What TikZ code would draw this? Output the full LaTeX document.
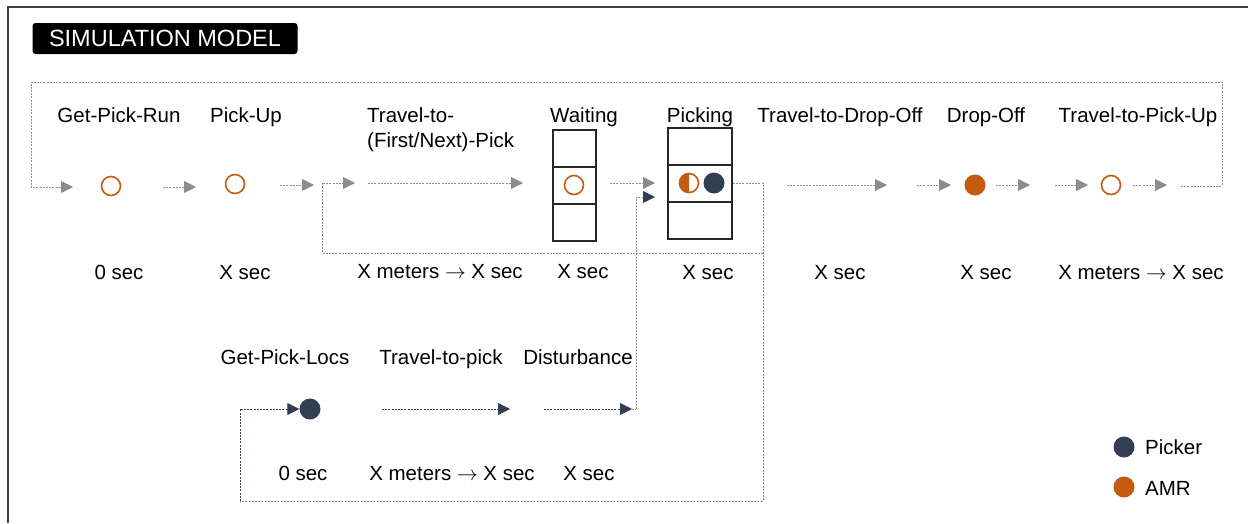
\documentclass[tikz,border=0pt]{standalone}
\usepackage{fontspec}
\setmainfont{Liberation Sans}
\usetikzlibrary{arrows.meta}
\definecolor{amr}{HTML}{C55A11}
\definecolor{picker}{HTML}{333F50}
\definecolor{flowgray}{HTML}{8C8C8C}
\definecolor{framegray}{HTML}{404040}

\newcommand{\tto}{ $\rightarrow$ }

\tikzset{
  lbl/.style={anchor=base, inner sep=0pt, font=\fontsize{20.5}{24}\selectfont},
  lblleft/.style={lbl, anchor=base west},
  gflow/.style={draw=flowgray, line width=0.9pt, dash pattern=on 2pt off 1.2pt,
    -{Triangle[length=12pt,width=12pt]}},
  nflow/.style={draw=picker, line width=0.9pt, dash pattern=on 2pt off 1.2pt,
    -{Triangle[length=12pt,width=12pt]}},
  loopline/.style={draw=flowgray, line width=0.9pt, dash pattern=on 2pt off 1.2pt},
  amrring/.style={circle, draw=amr, line width=1.6pt, minimum size=19pt, inner sep=0pt},
  amrdot/.style={circle, fill=amr, minimum size=21pt, inner sep=0pt},
  pickdot/.style={circle, fill=picker, minimum size=21pt, inner sep=0pt},
  cell/.style={draw=black!85, line width=1.4pt, inner sep=0pt},
}

\begin{document}
\begin{tikzpicture}[x=1pt,y=-1pt]
\useasboundingbox (0,0) rectangle (1248,523);

% frame and title
\draw[framegray, line width=1.6pt] (8,523) -- (8,7) -- (1248,7);
\node[fill=black, rounded corners=3pt, text=white, minimum width=265pt,
  minimum height=31pt, inner sep=0pt, font=\fontsize{23.5}{27}\selectfont]
  (title) at (165,38.5) {SIMULATION MODEL};

% ---------- AMR process (top row) ----------
\node[lbl] (l1) at (119,122) {Get-Pick-Run};
\node[lbl] (l2) at (246,122) {Pick-Up};
\node[lblleft] (l3a) at (367,122) {Travel-to-};
\node[lblleft] (l3b) at (367,147) {(First/Next)-Pick};
\node[lbl] (l4) at (584,122) {Waiting};
\node[lbl] (l5) at (700,122) {Picking};
\node[lbl] (l6) at (840,122) {Travel-to-Drop-Off};
\node[lbl] (l7) at (986,122) {Drop-Off};
\node[lbl] (l8) at (1138,122) {Travel-to-Pick-Up};

\node[lbl] (t1) at (119,279) {0 sec};
\node[lbl] (t2) at (245,279) {X sec};
\node[lbl] (t3) at (440,278) {X meters\tto X sec};
\node[lbl] (t4) at (583,278) {X sec};
\node[lbl] (t5) at (708,279) {X sec};
\node[lbl] (t6) at (840,279) {X sec};
\node[lbl] (t7) at (986,279) {X sec};
\node[lbl] (t8) at (1141,279) {X meters\tto X sec};

% waiting buffer
\node[cell, minimum width=43pt, minimum height=37pt] (w1) at (574.5,148.5) {};
\node[cell, minimum width=43pt, minimum height=37pt] (w2) at (574.5,185.5) {};
\node[cell, minimum width=43pt, minimum height=37pt] (w3) at (574.5,222.5) {};
% picking station
\node[cell, minimum width=64pt, minimum height=37pt] (p1) at (700,146.5) {};
\node[cell, minimum width=64pt, minimum height=37pt] (p2) at (700,183.5) {};
\node[cell, minimum width=64pt, minimum height=37pt] (p3) at (700,220.5) {};

% state markers
\node[amrring] (c1) at (111,186) {};
\node[amrring] (c2) at (235,184) {};
\node[amrring] (c3) at (574,185) {};
\node[amrring] (c4) at (689,183) {};
\begin{scope}
  \clip ([xshift=-12pt,yshift=12pt]c4.center) rectangle ([yshift=-12pt]c4.center);
  \fill[amr] (c4.center) circle[radius=10];
\end{scope}
\node[pickdot] (c5) at (714,183) {};
\node[amrdot] (c6) at (975,185) {};
\node[amrring] (c7) at (1111,185) {};

% arrow end points of the top row
\coordinate (a1e) at (73,187);
\coordinate (a2s) at (163,187);  \coordinate (a2e) at (196,187);
\coordinate (a3s) at (280,185);  \coordinate (a3e) at (314,185);
\coordinate (a4e) at (355,183);
\coordinate (a5s) at (368,183);  \coordinate (a5e) at (523,183);
\coordinate (a6s) at (610,183);  \coordinate (a6e) at (655,183);
\coordinate (a7s) at (787,185);  \coordinate (a7e) at (887,185);
\coordinate (a8s) at (917,185);  \coordinate (a8e) at (951,185);
\coordinate (a9s) at (996,185);  \coordinate (a9e) at (1030,185);
\coordinate (a10s) at (1055,185); \coordinate (a10e) at (1088,185);
\coordinate (a11s) at (1133,185); \coordinate (a11e) at (1167,185);
\coordinate (a12s) at (1181,186);
\coordinate (topR) at (1222,82);
\coordinate (topL) at (31,82);
\coordinate (pkout) at (763,183);
\coordinate (rejoin) at (322,253);
\coordinate (botR) at (763,501);
\coordinate (botL) at (240,501);

\draw[gflow] (a12s) -| (topR) -- (topL) |- (a1e);
\draw[gflow] (a2s) -- (a2e);
\draw[gflow] (a3s) -- (a3e);
\draw[gflow] (a5s) -- (a5e);
\draw[gflow] (a6s) -- (a6e);
\draw[gflow] (a7s) -- (a7e);
\draw[gflow] (a8s) -- (a8e);
\draw[gflow] (a9s) -- (a9e);
\draw[gflow] (a10s) -- (a10e);
\draw[gflow] (a11s) -- (a11e);

% loops leaving the picking station
\draw[loopline] (p2.east |- pkout) -- (pkout) -- (botR) -- (botL);
\draw[gflow] (pkout |- rejoin) -- (rejoin) |- (a4e);

% ---------- picker process (bottom row) ----------
\node[lbl] (b1) at (285,364) {Get-Pick-Locs};
\node[lbl] (b2) at (441,364) {Travel-to-pick};
\node[lbl] (b3) at (578,364) {Disturbance};
\node[lbl] (u1) at (303,480) {0 sec};
\node[lbl] (u2) at (452,480) {X meters\tto X sec};
\node[lbl] (u3) at (589,480) {X sec};

\node[pickdot] (g1) at (310,409) {};
\coordinate (b2s) at (382,409); \coordinate (b2e) at (510,409);
\coordinate (b3s) at (544,409); \coordinate (b3e) at (632,409);
\coordinate (rise) at (636,409);
\coordinate (pin) at (655,197);

\draw[nflow] (botL) |- (g1.west);
\draw[nflow] (b2s) -- (b2e);
\draw[nflow] (b3s) -- (b3e);
\draw[loopline] (b3e) -- (rise);
\draw[loopline, -{Triangle[length=12pt,width=12pt,color=picker]}] (rise) |- (pin);

% legend
\node[pickdot] (k1) at (1124,447) {};
\node[lblleft] (k1t) at (1145,454) {Picker};
\node[amrdot] (k2) at (1124,487) {};
\node[lblleft] (k2t) at (1145,495) {AMR};
\end{tikzpicture}
\end{document}
